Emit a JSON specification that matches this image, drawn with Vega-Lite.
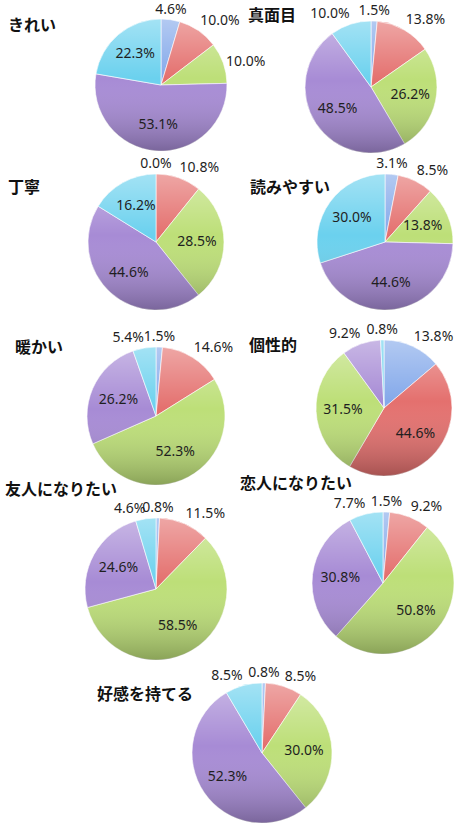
{
  "$schema": "https://vega.github.io/schema/vega-lite/v6.json",
  "background": "white",
  "padding": {"left": 5, "top": 2, "right": 0, "bottom": 0},
  "datasets": {
    "d": [
      {"trait": "きれい", "cat": "1", "value": 0.046},
      {"trait": "きれい", "cat": "2", "value": 0.100},
      {"trait": "きれい", "cat": "3", "value": 0.100},
      {"trait": "きれい", "cat": "4", "value": 0.531},
      {"trait": "きれい", "cat": "5", "value": 0.223},
      {"trait": "真面目", "cat": "1", "value": 0.015},
      {"trait": "真面目", "cat": "2", "value": 0.138},
      {"trait": "真面目", "cat": "3", "value": 0.262},
      {"trait": "真面目", "cat": "4", "value": 0.485},
      {"trait": "真面目", "cat": "5", "value": 0.100},
      {"trait": "丁寧", "cat": "1", "value": 0.000},
      {"trait": "丁寧", "cat": "2", "value": 0.108},
      {"trait": "丁寧", "cat": "3", "value": 0.285},
      {"trait": "丁寧", "cat": "4", "value": 0.446},
      {"trait": "丁寧", "cat": "5", "value": 0.162},
      {"trait": "読みやすい", "cat": "1", "value": 0.031},
      {"trait": "読みやすい", "cat": "2", "value": 0.085},
      {"trait": "読みやすい", "cat": "3", "value": 0.138},
      {"trait": "読みやすい", "cat": "4", "value": 0.446},
      {"trait": "読みやすい", "cat": "5", "value": 0.300},
      {"trait": "暖かい", "cat": "1", "value": 0.015},
      {"trait": "暖かい", "cat": "2", "value": 0.146},
      {"trait": "暖かい", "cat": "3", "value": 0.523},
      {"trait": "暖かい", "cat": "4", "value": 0.262},
      {"trait": "暖かい", "cat": "5", "value": 0.054},
      {"trait": "個性的", "cat": "1", "value": 0.138},
      {"trait": "個性的", "cat": "2", "value": 0.446},
      {"trait": "個性的", "cat": "3", "value": 0.315},
      {"trait": "個性的", "cat": "4", "value": 0.092},
      {"trait": "個性的", "cat": "5", "value": 0.008},
      {"trait": "友人になりたい", "cat": "1", "value": 0.008},
      {"trait": "友人になりたい", "cat": "2", "value": 0.115},
      {"trait": "友人になりたい", "cat": "3", "value": 0.585},
      {"trait": "友人になりたい", "cat": "4", "value": 0.246},
      {"trait": "友人になりたい", "cat": "5", "value": 0.046},
      {"trait": "恋人になりたい", "cat": "1", "value": 0.015},
      {"trait": "恋人になりたい", "cat": "2", "value": 0.092},
      {"trait": "恋人になりたい", "cat": "3", "value": 0.508},
      {"trait": "恋人になりたい", "cat": "4", "value": 0.308},
      {"trait": "恋人になりたい", "cat": "5", "value": 0.077},
      {"trait": "好感を持てる", "cat": "1", "value": 0.008},
      {"trait": "好感を持てる", "cat": "2", "value": 0.085},
      {"trait": "好感を持てる", "cat": "3", "value": 0.300},
      {"trait": "好感を持てる", "cat": "4", "value": 0.523},
      {"trait": "好感を持てる", "cat": "5", "value": 0.085}
    ]
  },
  "data": {"name": "d"},
  "columns": 2,
  "bounds": "flush",
  "spacing": 0,
  "concat": [
    {
      "width": 152, "height": 140,
      "title": {"text": "きれい", "dx": -77, "dy": -141},
      "transform": [{"filter": "datum.trait === 'きれい'"}],
      "layer": [
        {"mark": {"type": "arc", "outerRadius": 66},
         "encoding": {"theta": {"field": "value", "type": "quantitative", "stack": true},
                      "color": {"field": "cat", "type": "nominal", "scale": {"domain": ["1","2","3","4","5"], "range": ["#84a9ea","#e4706e","#bddf78","#a78bd5","#6bd1ee"]}, "legend": null},
                      "order": {"field": "cat"}}},
        {"transform": [{"aggregate": [{"op": "count", "as": "n"}]}],
         "mark": {"type": "arc", "outerRadius": 66, "theta": 0, "theta2": 6.2832, "stroke": null,
                  "fill": {"gradient": "linear", "x1": 0, "y1": 0, "x2": 0, "y2": 1, "stops": [{"offset": 0, "color": "rgba(255,255,255,0.38)"}, {"offset": 0.45, "color": "rgba(255,255,255,0)"}, {"offset": 1, "color": "rgba(0,0,0,0.27)"}]}},
         "encoding": {}},
        {"mark": {"type": "text", "radius": 40},
         "encoding": {"theta": {"field": "value", "type": "quantitative", "stack": true}, "detail": {"field": "cat"}, "order": {"field": "cat"},
                      "text": {"field": "value", "type": "quantitative", "format": ".1%"},
                      "opacity": {"condition": {"test": "datum.value >= 0.15", "value": 1}, "value": 0}}},
        {"mark": {"type": "text", "radius": {"expr": "datum.value < 0.15 ? 69 : 0"},
                  "align": {"expr": "sin(PI*(datum.value_start+datum.value_end)) > 0.2 ? 'left' : (sin(PI*(datum.value_start+datum.value_end)) < -0.12 ? 'right' : 'center')"},
                  "baseline": {"expr": "cos(PI*(datum.value_start+datum.value_end)) > 0.45 ? 'bottom' : (cos(PI*(datum.value_start+datum.value_end)) < -0.45 ? 'top' : 'middle')"}},
         "encoding": {"theta": {"field": "value", "type": "quantitative", "stack": true}, "detail": {"field": "cat"}, "order": {"field": "cat"},
                      "text": {"field": "value", "type": "quantitative", "format": ".1%"},
                      "opacity": {"condition": {"test": "datum.value < 0.15", "value": 1}, "value": 0}}}
      ]
    },
    {
      "width": 268, "height": 144,
      "title": {"text": "真面目", "dx": 11, "dy": -155},
      "transform": [{"filter": "datum.trait === '真面目'"}],
      "layer": [
        {"mark": {"type": "arc", "outerRadius": 66},
         "encoding": {"theta": {"field": "value", "type": "quantitative", "stack": true},
                      "color": {"field": "cat", "type": "nominal", "scale": {"domain": ["1","2","3","4","5"], "range": ["#84a9ea","#e4706e","#bddf78","#a78bd5","#6bd1ee"]}, "legend": null},
                      "order": {"field": "cat"}}},
        {"transform": [{"aggregate": [{"op": "count", "as": "n"}]}],
         "mark": {"type": "arc", "outerRadius": 66, "theta": 0, "theta2": 6.2832, "stroke": null,
                  "fill": {"gradient": "linear", "x1": 0, "y1": 0, "x2": 0, "y2": 1, "stops": [{"offset": 0, "color": "rgba(255,255,255,0.38)"}, {"offset": 0.45, "color": "rgba(255,255,255,0)"}, {"offset": 1, "color": "rgba(0,0,0,0.27)"}]}},
         "encoding": {}},
        {"mark": {"type": "text", "radius": 40},
         "encoding": {"theta": {"field": "value", "type": "quantitative", "stack": true}, "detail": {"field": "cat"}, "order": {"field": "cat"},
                      "text": {"field": "value", "type": "quantitative", "format": ".1%"},
                      "opacity": {"condition": {"test": "datum.value >= 0.15", "value": 1}, "value": 0}}},
        {"mark": {"type": "text", "radius": {"expr": "datum.value < 0.15 ? 69 : 0"},
                  "align": {"expr": "sin(PI*(datum.value_start+datum.value_end)) > 0.2 ? 'left' : (sin(PI*(datum.value_start+datum.value_end)) < -0.12 ? 'right' : 'center')"},
                  "baseline": {"expr": "cos(PI*(datum.value_start+datum.value_end)) > 0.45 ? 'bottom' : (cos(PI*(datum.value_start+datum.value_end)) < -0.45 ? 'top' : 'middle')"}},
         "encoding": {"theta": {"field": "value", "type": "quantitative", "stack": true}, "detail": {"field": "cat"}, "order": {"field": "cat"},
                      "text": {"field": "value", "type": "quantitative", "format": ".1%"},
                      "opacity": {"condition": {"test": "datum.value < 0.15", "value": 1}, "value": 0}}}
      ]
    },
    {
      "width": 142, "height": 166,
      "title": {"text": "丁寧", "dx": -77, "dy": -149},
      "transform": [{"filter": "datum.trait === '丁寧'"}],
      "layer": [
        {"mark": {"type": "arc", "outerRadius": 68},
         "encoding": {"theta": {"field": "value", "type": "quantitative", "stack": true},
                      "color": {"field": "cat", "type": "nominal", "scale": {"domain": ["1","2","3","4","5"], "range": ["#84a9ea","#e4706e","#bddf78","#a78bd5","#6bd1ee"]}, "legend": null},
                      "order": {"field": "cat"}}},
        {"transform": [{"aggregate": [{"op": "count", "as": "n"}]}],
         "mark": {"type": "arc", "outerRadius": 68, "theta": 0, "theta2": 6.2832, "stroke": null,
                  "fill": {"gradient": "linear", "x1": 0, "y1": 0, "x2": 0, "y2": 1, "stops": [{"offset": 0, "color": "rgba(255,255,255,0.38)"}, {"offset": 0.45, "color": "rgba(255,255,255,0)"}, {"offset": 1, "color": "rgba(0,0,0,0.27)"}]}},
         "encoding": {}},
        {"mark": {"type": "text", "radius": 41},
         "encoding": {"theta": {"field": "value", "type": "quantitative", "stack": true}, "detail": {"field": "cat"}, "order": {"field": "cat"},
                      "text": {"field": "value", "type": "quantitative", "format": ".1%"},
                      "opacity": {"condition": {"test": "datum.value >= 0.15", "value": 1}, "value": 0}}},
        {"mark": {"type": "text", "radius": {"expr": "datum.value < 0.15 ? 71 : 0"},
                  "align": {"expr": "sin(PI*(datum.value_start+datum.value_end)) > 0.2 ? 'left' : (sin(PI*(datum.value_start+datum.value_end)) < -0.12 ? 'right' : 'center')"},
                  "baseline": {"expr": "cos(PI*(datum.value_start+datum.value_end)) > 0.45 ? 'bottom' : (cos(PI*(datum.value_start+datum.value_end)) < -0.45 ? 'top' : 'middle')"}},
         "encoding": {"theta": {"field": "value", "type": "quantitative", "stack": true}, "detail": {"field": "cat"}, "order": {"field": "cat"},
                      "text": {"field": "value", "type": "quantitative", "format": ".1%"},
                      "opacity": {"condition": {"test": "datum.value < 0.15", "value": 1}, "value": 0}}}
      ]
    },
    {
      "width": 296, "height": 166,
      "title": {"text": "読みやすい", "dx": 13, "dy": -149},
      "transform": [{"filter": "datum.trait === '読みやすい'"}],
      "layer": [
        {"mark": {"type": "arc", "outerRadius": 68},
         "encoding": {"theta": {"field": "value", "type": "quantitative", "stack": true},
                      "color": {"field": "cat", "type": "nominal", "scale": {"domain": ["1","2","3","4","5"], "range": ["#84a9ea","#e4706e","#bddf78","#a78bd5","#6bd1ee"]}, "legend": null},
                      "order": {"field": "cat"}}},
        {"transform": [{"aggregate": [{"op": "count", "as": "n"}]}],
         "mark": {"type": "arc", "outerRadius": 68, "theta": 0, "theta2": 6.2832, "stroke": null,
                  "fill": {"gradient": "linear", "x1": 0, "y1": 0, "x2": 0, "y2": 1, "stops": [{"offset": 0, "color": "rgba(255,255,255,0.38)"}, {"offset": 0.45, "color": "rgba(255,255,255,0)"}, {"offset": 1, "color": "rgba(0,0,0,0.27)"}]}},
         "encoding": {}},
        {"mark": {"type": "text", "radius": 41},
         "encoding": {"theta": {"field": "value", "type": "quantitative", "stack": true}, "detail": {"field": "cat"}, "order": {"field": "cat"},
                      "text": {"field": "value", "type": "quantitative", "format": ".1%"},
                      "opacity": {"condition": {"test": "datum.value >= 0.13", "value": 1}, "value": 0}}},
        {"mark": {"type": "text", "radius": {"expr": "datum.value < 0.13 ? 71 : 0"},
                  "align": {"expr": "sin(PI*(datum.value_start+datum.value_end)) > 0.2 ? 'left' : (sin(PI*(datum.value_start+datum.value_end)) < -0.12 ? 'right' : 'center')"},
                  "baseline": {"expr": "cos(PI*(datum.value_start+datum.value_end)) > 0.45 ? 'bottom' : (cos(PI*(datum.value_start+datum.value_end)) < -0.45 ? 'top' : 'middle')"}},
         "encoding": {"theta": {"field": "value", "type": "quantitative", "stack": true}, "detail": {"field": "cat"}, "order": {"field": "cat"},
                      "text": {"field": "value", "type": "quantitative", "format": ".1%"},
                      "opacity": {"condition": {"test": "datum.value < 0.13", "value": 1}, "value": 0}}}
      ]
    },
    {
      "width": 142, "height": 182,
      "title": {"text": "暖かい", "dx": -70, "dy": -171},
      "transform": [{"filter": "datum.trait === '暖かい'"}],
      "layer": [
        {"mark": {"type": "arc", "outerRadius": 69},
         "encoding": {"theta": {"field": "value", "type": "quantitative", "stack": true},
                      "color": {"field": "cat", "type": "nominal", "scale": {"domain": ["1","2","3","4","5"], "range": ["#84a9ea","#e4706e","#bddf78","#a78bd5","#6bd1ee"]}, "legend": null},
                      "order": {"field": "cat"}}},
        {"transform": [{"aggregate": [{"op": "count", "as": "n"}]}],
         "mark": {"type": "arc", "outerRadius": 69, "theta": 0, "theta2": 6.2832, "stroke": null,
                  "fill": {"gradient": "linear", "x1": 0, "y1": 0, "x2": 0, "y2": 1, "stops": [{"offset": 0, "color": "rgba(255,255,255,0.38)"}, {"offset": 0.45, "color": "rgba(255,255,255,0)"}, {"offset": 1, "color": "rgba(0,0,0,0.27)"}]}},
         "encoding": {}},
        {"mark": {"type": "text", "radius": 41},
         "encoding": {"theta": {"field": "value", "type": "quantitative", "stack": true}, "detail": {"field": "cat"}, "order": {"field": "cat"},
                      "text": {"field": "value", "type": "quantitative", "format": ".1%"},
                      "opacity": {"condition": {"test": "datum.value >= 0.15", "value": 1}, "value": 0}}},
        {"mark": {"type": "text", "radius": {"expr": "datum.value < 0.15 ? 72 : 0"},
                  "align": {"expr": "sin(PI*(datum.value_start+datum.value_end)) > 0.2 ? 'left' : (sin(PI*(datum.value_start+datum.value_end)) < -0.12 ? 'right' : 'center')"},
                  "baseline": {"expr": "cos(PI*(datum.value_start+datum.value_end)) > 0.45 ? 'bottom' : (cos(PI*(datum.value_start+datum.value_end)) < -0.45 ? 'top' : 'middle')"}},
         "encoding": {"theta": {"field": "value", "type": "quantitative", "stack": true}, "detail": {"field": "cat"}, "order": {"field": "cat"},
                      "text": {"field": "value", "type": "quantitative", "format": ".1%"},
                      "opacity": {"condition": {"test": "datum.value < 0.15", "value": 1}, "value": 0}}}
      ]
    },
    {
      "width": 294, "height": 166,
      "title": {"text": "個性的", "dx": 12, "dy": -157},
      "transform": [{"filter": "datum.trait === '個性的'"}],
      "layer": [
        {"mark": {"type": "arc", "outerRadius": 68},
         "encoding": {"theta": {"field": "value", "type": "quantitative", "stack": true},
                      "color": {"field": "cat", "type": "nominal", "scale": {"domain": ["1","2","3","4","5"], "range": ["#84a9ea","#e4706e","#bddf78","#a78bd5","#6bd1ee"]}, "legend": null},
                      "order": {"field": "cat"}}},
        {"transform": [{"aggregate": [{"op": "count", "as": "n"}]}],
         "mark": {"type": "arc", "outerRadius": 68, "theta": 0, "theta2": 6.2832, "stroke": null,
                  "fill": {"gradient": "linear", "x1": 0, "y1": 0, "x2": 0, "y2": 1, "stops": [{"offset": 0, "color": "rgba(255,255,255,0.38)"}, {"offset": 0.45, "color": "rgba(255,255,255,0)"}, {"offset": 1, "color": "rgba(0,0,0,0.27)"}]}},
         "encoding": {}},
        {"mark": {"type": "text", "radius": 41},
         "encoding": {"theta": {"field": "value", "type": "quantitative", "stack": true}, "detail": {"field": "cat"}, "order": {"field": "cat"},
                      "text": {"field": "value", "type": "quantitative", "format": ".1%"},
                      "opacity": {"condition": {"test": "datum.value >= 0.15", "value": 1}, "value": 0}}},
        {"mark": {"type": "text", "radius": {"expr": "datum.value < 0.15 ? 71 : 0"},
                  "align": {"expr": "sin(PI*(datum.value_start+datum.value_end)) > 0.2 ? 'left' : (sin(PI*(datum.value_start+datum.value_end)) < -0.12 ? 'right' : 'center')"},
                  "baseline": {"expr": "cos(PI*(datum.value_start+datum.value_end)) > 0.45 ? 'bottom' : (cos(PI*(datum.value_start+datum.value_end)) < -0.45 ? 'top' : 'middle')"}},
         "encoding": {"theta": {"field": "value", "type": "quantitative", "stack": true}, "detail": {"field": "cat"}, "order": {"field": "cat"},
                      "text": {"field": "value", "type": "quantitative", "format": ".1%"},
                      "opacity": {"condition": {"test": "datum.value < 0.15", "value": 1}, "value": 0}}}
      ]
    },
    {
      "width": 142, "height": 164,
      "title": {"text": "友人になりたい", "dx": -80, "dy": -193},
      "transform": [{"filter": "datum.trait === '友人になりたい'"}],
      "layer": [
        {"mark": {"type": "arc", "outerRadius": 71},
         "encoding": {"theta": {"field": "value", "type": "quantitative", "stack": true},
                      "color": {"field": "cat", "type": "nominal", "scale": {"domain": ["1","2","3","4","5"], "range": ["#84a9ea","#e4706e","#bddf78","#a78bd5","#6bd1ee"]}, "legend": null},
                      "order": {"field": "cat"}}},
        {"transform": [{"aggregate": [{"op": "count", "as": "n"}]}],
         "mark": {"type": "arc", "outerRadius": 71, "theta": 0, "theta2": 6.2832, "stroke": null,
                  "fill": {"gradient": "linear", "x1": 0, "y1": 0, "x2": 0, "y2": 1, "stops": [{"offset": 0, "color": "rgba(255,255,255,0.38)"}, {"offset": 0.45, "color": "rgba(255,255,255,0)"}, {"offset": 1, "color": "rgba(0,0,0,0.27)"}]}},
         "encoding": {}},
        {"mark": {"type": "text", "radius": 43},
         "encoding": {"theta": {"field": "value", "type": "quantitative", "stack": true}, "detail": {"field": "cat"}, "order": {"field": "cat"},
                      "text": {"field": "value", "type": "quantitative", "format": ".1%"},
                      "opacity": {"condition": {"test": "datum.value >= 0.15", "value": 1}, "value": 0}}},
        {"mark": {"type": "text", "radius": {"expr": "datum.value < 0.15 ? 74 : 0"},
                  "align": {"expr": "sin(PI*(datum.value_start+datum.value_end)) > 0.2 ? 'left' : (sin(PI*(datum.value_start+datum.value_end)) < -0.12 ? 'right' : 'center')"},
                  "baseline": {"expr": "cos(PI*(datum.value_start+datum.value_end)) > 0.45 ? 'bottom' : (cos(PI*(datum.value_start+datum.value_end)) < -0.45 ? 'top' : 'middle')"}},
         "encoding": {"theta": {"field": "value", "type": "quantitative", "stack": true}, "detail": {"field": "cat"}, "order": {"field": "cat"},
                      "text": {"field": "value", "type": "quantitative", "format": ".1%"},
                      "opacity": {"condition": {"test": "datum.value < 0.15", "value": 1}, "value": 0}}}
      ]
    },
    {
      "width": 292, "height": 152,
      "title": {"text": "恋人になりたい", "dx": 3, "dy": -187},
      "transform": [{"filter": "datum.trait === '恋人になりたい'"}],
      "layer": [
        {"mark": {"type": "arc", "outerRadius": 71},
         "encoding": {"theta": {"field": "value", "type": "quantitative", "stack": true},
                      "color": {"field": "cat", "type": "nominal", "scale": {"domain": ["1","2","3","4","5"], "range": ["#84a9ea","#e4706e","#bddf78","#a78bd5","#6bd1ee"]}, "legend": null},
                      "order": {"field": "cat"}}},
        {"transform": [{"aggregate": [{"op": "count", "as": "n"}]}],
         "mark": {"type": "arc", "outerRadius": 71, "theta": 0, "theta2": 6.2832, "stroke": null,
                  "fill": {"gradient": "linear", "x1": 0, "y1": 0, "x2": 0, "y2": 1, "stops": [{"offset": 0, "color": "rgba(255,255,255,0.38)"}, {"offset": 0.45, "color": "rgba(255,255,255,0)"}, {"offset": 1, "color": "rgba(0,0,0,0.27)"}]}},
         "encoding": {}},
        {"mark": {"type": "text", "radius": 43},
         "encoding": {"theta": {"field": "value", "type": "quantitative", "stack": true}, "detail": {"field": "cat"}, "order": {"field": "cat"},
                      "text": {"field": "value", "type": "quantitative", "format": ".1%"},
                      "opacity": {"condition": {"test": "datum.value >= 0.15", "value": 1}, "value": 0}}},
        {"mark": {"type": "text", "radius": {"expr": "datum.value < 0.15 ? 74 : 0"},
                  "align": {"expr": "sin(PI*(datum.value_start+datum.value_end)) > 0.2 ? 'left' : (sin(PI*(datum.value_start+datum.value_end)) < -0.12 ? 'right' : 'center')"},
                  "baseline": {"expr": "cos(PI*(datum.value_start+datum.value_end)) > 0.45 ? 'bottom' : (cos(PI*(datum.value_start+datum.value_end)) < -0.45 ? 'top' : 'middle')"}},
         "encoding": {"theta": {"field": "value", "type": "quantitative", "stack": true}, "detail": {"field": "cat"}, "order": {"field": "cat"},
                      "text": {"field": "value", "type": "quantitative", "format": ".1%"},
                      "opacity": {"condition": {"test": "datum.value < 0.15", "value": 1}, "value": 0}}}
      ]
    },
    {
      "data": {"values": []},
      "width": 142, "height": 1,
      "mark": "text",
      "encoding": {}
    },
    {
      "width": 50, "height": 164,
      "title": {"text": "好感を持てる", "dx": -140, "dy": -152},
      "transform": [{"filter": "datum.trait === '好感を持てる'"}],
      "layer": [
        {"mark": {"type": "arc", "outerRadius": 70},
         "encoding": {"theta": {"field": "value", "type": "quantitative", "stack": true},
                      "color": {"field": "cat", "type": "nominal", "scale": {"domain": ["1","2","3","4","5"], "range": ["#84a9ea","#e4706e","#bddf78","#a78bd5","#6bd1ee"]}, "legend": null},
                      "order": {"field": "cat"}}},
        {"transform": [{"aggregate": [{"op": "count", "as": "n"}]}],
         "mark": {"type": "arc", "outerRadius": 70, "theta": 0, "theta2": 6.2832, "stroke": null,
                  "fill": {"gradient": "linear", "x1": 0, "y1": 0, "x2": 0, "y2": 1, "stops": [{"offset": 0, "color": "rgba(255,255,255,0.38)"}, {"offset": 0.45, "color": "rgba(255,255,255,0)"}, {"offset": 1, "color": "rgba(0,0,0,0.27)"}]}},
         "encoding": {}},
        {"mark": {"type": "text", "radius": 42},
         "encoding": {"theta": {"field": "value", "type": "quantitative", "stack": true}, "detail": {"field": "cat"}, "order": {"field": "cat"},
                      "text": {"field": "value", "type": "quantitative", "format": ".1%"},
                      "opacity": {"condition": {"test": "datum.value >= 0.15", "value": 1}, "value": 0}}},
        {"mark": {"type": "text", "radius": {"expr": "datum.value < 0.15 ? 73 : 0"},
                  "align": {"expr": "sin(PI*(datum.value_start+datum.value_end)) > 0.2 ? 'left' : (sin(PI*(datum.value_start+datum.value_end)) < -0.12 ? 'right' : 'center')"},
                  "baseline": {"expr": "cos(PI*(datum.value_start+datum.value_end)) > 0.45 ? 'bottom' : (cos(PI*(datum.value_start+datum.value_end)) < -0.45 ? 'top' : 'middle')"}},
         "encoding": {"theta": {"field": "value", "type": "quantitative", "stack": true}, "detail": {"field": "cat"}, "order": {"field": "cat"},
                      "text": {"field": "value", "type": "quantitative", "format": ".1%"},
                      "opacity": {"condition": {"test": "datum.value < 0.15", "value": 1}, "value": 0}}}
      ]
    }
  ],
  "config": {
    "view": {"stroke": null},
    "arc": {"stroke": "#ffffff", "strokeWidth": 0.6},
    "text": {"font": "Noto Sans", "fontSize": 14, "fill": "#1f1f1f"},
    "title": {"orient": "bottom", "anchor": "start", "frame": "group", "offset": 0, "baseline": "top", "align": "left", "font": "Noto Sans CJK JP", "fontSize": 16, "fontWeight": "bold", "color": "#111111"}
  }
}
